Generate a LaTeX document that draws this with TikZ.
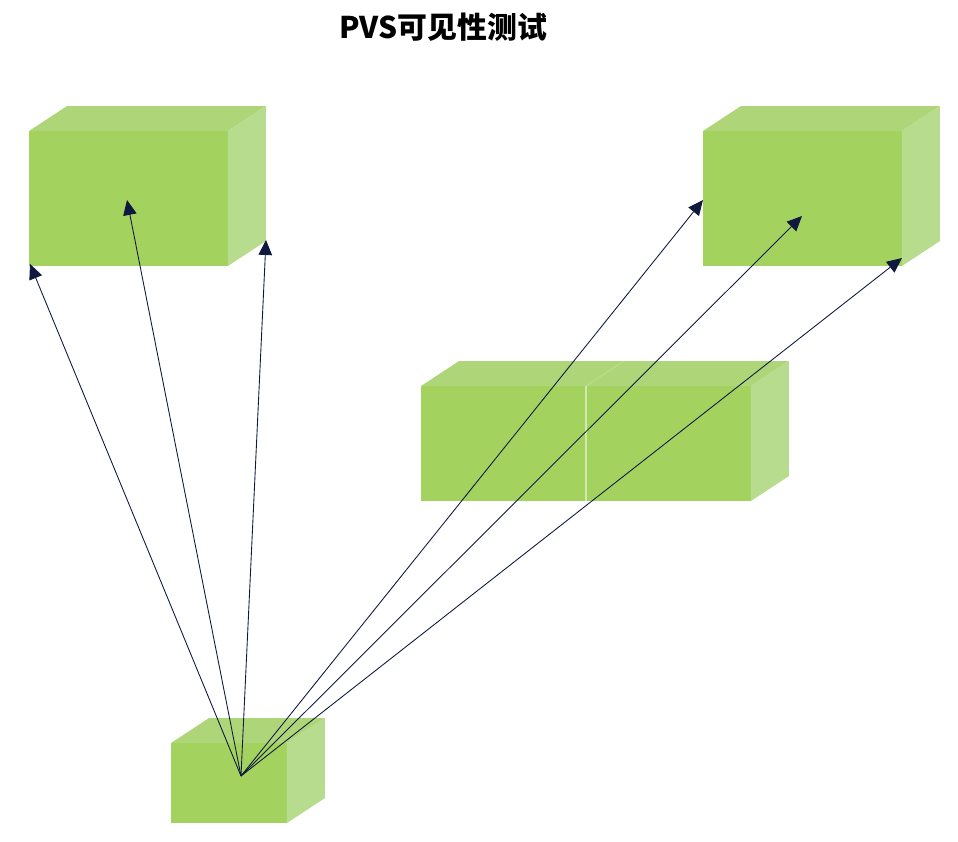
\documentclass[tikz,border=0pt]{standalone}
\usepackage{fontspec}
\newfontfamily\cjk{Noto Sans CJK SC}
\usetikzlibrary{calc, positioning}
\usetikzlibrary{arrows.meta}
\definecolor{frontgreen}{RGB}{163,211,94}
\definecolor{topgreen}{RGB}{174,214,120}
\definecolor{sidegreen}{RGB}{184,220,142}
\definecolor{raynavy}{RGB}{16,24,64}
\def\dx{38}
\def\dy{-25}
\tikzset{
    front/.style = {
        rectangle, fill=frontgreen, inner sep=0pt, outer sep=0pt
    },
    Cuboid/.pic = {
        \node [front, #1](-front){};
        \fill[topgreen] (-front.north west) -- ++(\dx,\dy) -- ($(-front.north east)+(\dx,\dy)$) -- (-front.north east) -- cycle;
        \fill[sidegreen] (-front.north east) -- ++(\dx,\dy) -- ($(-front.south east)+(\dx,\dy)$) -- (-front.south east) -- cycle;
    },
}
\tikzset{
    ray/.style = {
        draw=raynavy, line width=0.5pt, -{Triangle[length=0.3cm, width=0.27cm]}
    },
    seam/.style = {
        draw=white!50!frontgreen, line width=0.6pt
    },
}

\begin{document}
\begin{tikzpicture}[x=0.02cm, y=-0.02cm]
        \useasboundingbox (0,0) rectangle (958,842);

        % Place the title
        \node (title) at (443,27) {\cjk\bfseries\fontsize{17pt}{20pt}\selectfont PVS可见性测试};

        % Place the blocks
        \pic (tl) at (128.5,198.5) {Cuboid={minimum width=3.98cm, minimum height=2.7cm}};
        \pic (tr) at (802.5,198.5) {Cuboid={minimum width=3.98cm, minimum height=2.7cm}};
        \pic (mid) at (586,443.5) {Cuboid={minimum width=6.6cm, minimum height=2.3cm}};
        \pic (src) at (229,783) {Cuboid={minimum width=2.32cm, minimum height=1.6cm}};
        \draw[seam] (mid-front.south) -- (mid-front.north);
        \draw[seam, opacity=0.35] (mid-front.north) -- ++(\dx,\dy);

        % Eye point and targets
        \coordinate (eye) at (241,776);
        \coordinate (tl-a) at (30,264);
        \coordinate (tl-b) at (127,200);
        \coordinate (tl-c) at (266,240);
        \coordinate (tr-a) at (703,200);
        \coordinate (tr-b) at (802,216);
        \coordinate (tr-c) at (902,258);

        % Draw rays
        \foreach \t in {tl-a, tl-b, tl-c, tr-a, tr-b, tr-c}{
            \draw[ray] (eye) -- (\t);
        }
    \end{tikzpicture}
\end{document}
